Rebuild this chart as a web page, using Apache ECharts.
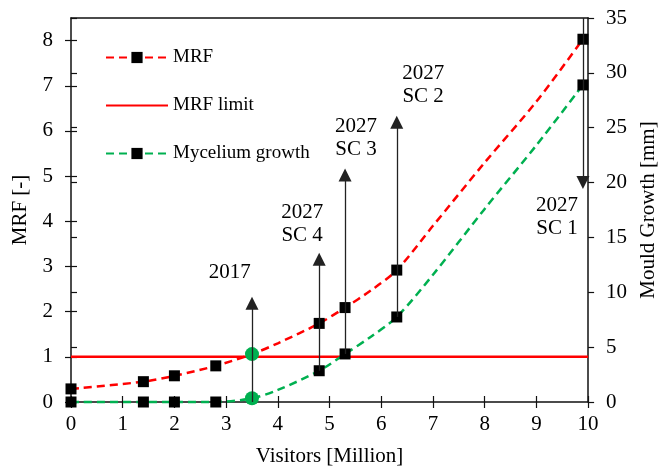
<!DOCTYPE html>
<html>
<head>
<meta charset="utf-8">
<title>MRF vs visitors</title>
<script src="https://cdn.jsdelivr.net/npm/echarts@6.0.0/dist/echarts.min.js"></script>
<style>
  body { margin: 0; background: #fff; }
  #main { width: 667px; height: 472px; }
</style>
</head>
<body>
<div id="main"></div>
<script>
// data
var visitors = [0, 1.4, 2, 2.8, 3.5, 4, 4.8, 5.3, 5.8, 6.3, 7, 8, 9, 9.9];
var mrf      = [0.29, 0.45, 0.58, 0.80, 1.06, 1.30, 1.74, 2.09, 2.47, 2.92, 3.9, 5.3, 6.65, 8.03];
var mould    = [0, 0, 0, 0, 0.34, 1.1, 2.85, 4.38, 5.95, 7.75, 11.6, 17.6, 23.4, 28.9];
var markedAt = [0, 1.4, 2, 2.8, 4.8, 5.3, 6.3, 9.9];   // square markers
var crossingAt = 3.5;                                  // green dots
var mrfLimit = 1;

var xTicks = [0, 1, 2, 3, 4, 5, 6, 7, 8, 9, 10];
var mrfTicks = [0, 1, 2, 3, 4, 5, 6, 7, 8];
var mrfMax = 8.5;
var mouldMax = 35;

// scenario arrows (mould growth axis, mm)
var arrowX    = [3.5, 4.8, 5.3, 6.3, 9.9];
var arrowFrom = [0, 2.85, 4.38, 7.75, 35];
var arrowTo   = [9, 13, 20.7, 25.5, 20];
var scenLabels = ['2017', '2027\nSC 4', '2027\nSC 3', '2027\nSC 2', '2027\nSC 1'];
var labelX    = [3.07, 4.47, 5.51, 6.81, 9.4];
var labelY    = [2.86, 3.94, 5.84, 7.02, 4.1];   // MRF axis

var RED = '#ff0000', GREEN = '#00b050';
var FONT = 'Liberation Serif';

function curve(vals) {
  return visitors.map(function (x, i) {
    var item = { value: [x, vals[i]] };
    if (x === crossingAt) {
      item.symbol = 'circle';
      item.symbolSize = 14;
      item.itemStyle = { color: GREEN };
    } else if (markedAt.indexOf(x) < 0) {
      item.symbol = 'none';
    }
    return item;
  });
}

var arrowLines = arrowX.map(function (x, i) {
  return [
    { coord: [x, arrowFrom[i]], symbol: 'none' },
    { coord: [x, arrowTo[i]], symbol: 'triangle', symbolSize: 13 }
  ];
});

var labelPts = labelX.map(function (x, i) { return { value: [x, labelY[i]], name: scenLabels[i] }; });

var axisLine = { show: true, onZero: false, lineStyle: { color: '#111', width: 1.5 } };
var tickStyle = { color: '#111', width: 1.2 };
var labelFont = { color: '#000', fontFamily: FONT, fontSize: 21 };

var myChart = echarts.init(document.getElementById('main'));
var option = {
  backgroundColor: '#fff',
  animation: false,
  grid: { left: 71, right: 71, top: 18, bottom: 70 },
  legend: {
    orient: 'vertical',
    left: 100,
    top: 43,
    itemWidth: 62,
    itemHeight: 14,
    itemGap: 29,
    textStyle: { color: '#000', fontFamily: FONT, fontSize: 19 },
    data: ['MRF', { name: 'MRF limit', itemStyle: { opacity: 0 } }, 'Mycelium growth']
  },
  xAxis: [{
    type: 'value', position: 'bottom', min: 0, max: 10, interval: 1,
    axisLine: axisLine,
    axisTick: { show: true, length: 6, lineStyle: tickStyle },
    axisLabel: Object.assign({ margin: 12, customValues: xTicks }, labelFont),
    splitLine: { show: false },
    name: 'Visitors [Million]', nameLocation: 'middle', nameGap: 44,
    nameTextStyle: labelFont
  }, {
    type: 'value', position: 'bottom', min: 0, max: 10, interval: 1,
    axisLine: { show: false },
    axisTick: { show: true, inside: true, length: 6, lineStyle: tickStyle },
    axisLabel: { show: false }, splitLine: { show: false }
  }, {
    type: 'value', position: 'top', min: 0, max: 10,
    axisLine: axisLine, axisTick: { show: false },
    axisLabel: { show: false }, splitLine: { show: false }
  }],
  yAxis: [{
    type: 'value', position: 'left', min: 0, max: mrfMax,
    axisLine: axisLine,
    axisTick: { show: true, length: 6, lineStyle: tickStyle, customValues: mrfTicks },
    axisLabel: Object.assign({ margin: 18, customValues: mrfTicks }, labelFont),
    splitLine: { show: false },
    name: 'MRF [-]', nameLocation: 'middle', nameGap: 40, nameRotate: 90,
    nameTextStyle: labelFont
  }, {
    type: 'value', position: 'right', min: 0, max: mouldMax, interval: 5,
    axisLine: axisLine,
    axisTick: { show: true, length: 6, lineStyle: tickStyle },
    axisLabel: Object.assign({ margin: 18 }, labelFont),
    splitLine: { show: false },
    name: 'Mould Growth [mm]', nameLocation: 'middle', nameGap: 48, nameRotate: 90,
    nameTextStyle: labelFont
  }, {
    type: 'value', position: 'left', min: 0, max: mrfMax,
    axisLine: { show: false },
    axisTick: { show: true, inside: true, length: 6, lineStyle: tickStyle, customValues: mrfTicks },
    axisLabel: { show: false }, splitLine: { show: false }
  }, {
    type: 'value', position: 'left', min: 0, max: mouldMax, interval: 5,
    axisLine: { show: false },
    axisTick: { show: true, inside: true, length: 6, lineStyle: tickStyle },
    axisLabel: { show: false }, splitLine: { show: false }
  }],
  series: [{
    name: 'arrows',
    type: 'line',
    yAxisIndex: 1,
    data: [],
    z: 1,
    markLine: {
      silent: true,
      animation: false,
      label: { show: false },
      lineStyle: { color: '#222', width: 1.3, type: 'solid' },
      data: arrowLines
    }
  }, {
    name: 'MRF limit',
    type: 'line',
    data: [[0, mrfLimit], [10, mrfLimit]],
    symbol: 'none',
    lineStyle: { color: RED, width: 2.5 },
    itemStyle: { color: RED },
    z: 2
  }, {
    name: 'MRF',
    type: 'line',
    data: curve(mrf),
    smooth: 0.3,
    symbol: 'rect',
    symbolSize: 11,
    clip: false,
    itemStyle: { color: '#000' },
    lineStyle: { color: RED, width: 2.5, type: [8, 5] },
    z: 3
  }, {
    name: 'Mycelium growth',
    type: 'line',
    yAxisIndex: 1,
    data: curve(mould),
    smooth: 0.3,
    symbol: 'rect',
    symbolSize: 11,
    clip: false,
    itemStyle: { color: '#000' },
    lineStyle: { color: GREEN, width: 2.5, type: [8, 5] },
    z: 3
  }, {
    name: 'labels',
    type: 'scatter',
    data: labelPts,
    symbolSize: 0,
    silent: true,
    itemStyle: { opacity: 1 },
    label: {
      show: true,
      position: 'inside',
      formatter: function (p) { return p.name; },
      color: '#000', fontFamily: FONT, fontSize: 21, lineHeight: 23, align: 'center'
    },
    z: 4
  }]
};
myChart.setOption(option);
</script>
</body>
</html>
